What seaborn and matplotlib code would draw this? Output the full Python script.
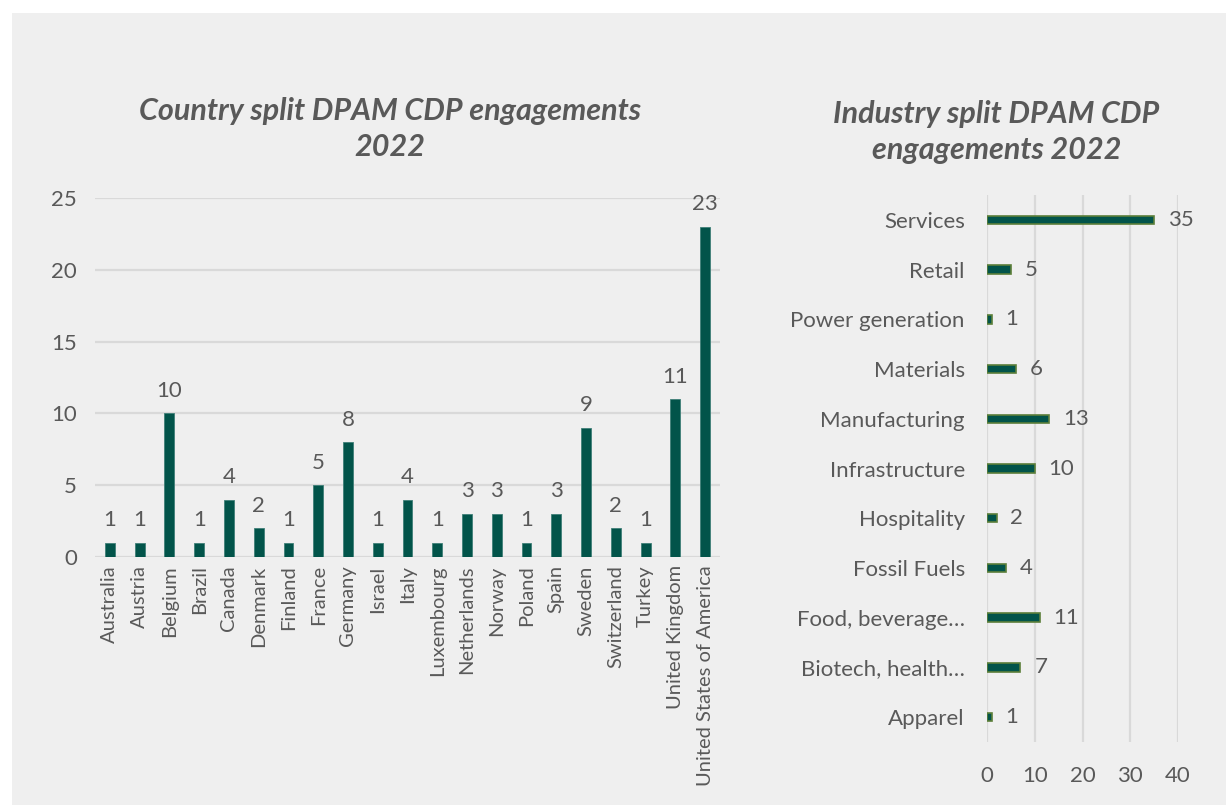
import matplotlib
matplotlib.use("Agg")
import matplotlib.pyplot as plt
import seaborn as sns
import pandas as pd
from matplotlib.patches import Rectangle

countries = ["Australia", "Austria", "Belgium", "Brazil", "Canada", "Denmark", "Finland",
             "France", "Germany", "Israel", "Italy", "Luxembourg", "Netherlands", "Norway",
             "Poland", "Spain", "Sweden", "Switzerland", "Turkey", "United Kingdom",
             "United States of America"]
country_counts = [1, 1, 10, 1, 4, 2, 1, 5, 8, 1, 4, 1, 3, 3, 1, 3, 9, 2, 1, 11, 23]

industries = ["Services", "Retail", "Power generation", "Materials", "Manufacturing",
              "Infrastructure", "Hospitality", "Fossil Fuels", "Food, beverage…",
              "Biotech, health…", "Apparel"]
industry_counts = [35, 5, 1, 6, 13, 10, 2, 4, 11, 7, 1]

title_left = "Country split DPAM CDP engagements\n2022"
title_right = "Industry split DPAM CDP\nengagements 2022"

sns.set_theme(style="white")
plt.rcParams['font.family'] = ['Lato', 'DejaVu Sans']

BAR = "#02544A"
EDGE_R = "#5C7F3A"
GRID = "#D9D9D9"
TXT = "#595959"
BG = "#EFEFEF"

W, H = 1226, 805
fig = plt.figure(figsize=(W / 100, H / 100), dpi=100, facecolor="white")
fig.patches.append(Rectangle((12 / W, 0), 1 - 12 / W, 1 - 13 / H, transform=fig.transFigure,
                             facecolor=BG, edgecolor="none", zorder=-10))

# Left chart
ax1 = fig.add_axes([95 / W, 1 - 557 / H, 625 / W, 359 / H])
df1 = pd.DataFrame({"country": countries, "count": country_counts})
sns.barplot(data=df1, x="country", y="count", color=BAR, width=0.33, ax=ax1,
            saturation=1, edgecolor="#3F7F77", linewidth=0.6, zorder=3)
ax1.set_ylim(0, 25)
ax1.set_yticks([0, 5, 10, 15, 20, 25])
ax1.set_facecolor("none")
ax1.grid(axis="y", color=GRID, linewidth=1.6, zorder=0)
for s in ax1.spines.values():
    s.set_visible(False)
ax1.set_xlabel("")
ax1.set_ylabel("")
ax1.tick_params(axis="y", labelsize=16, colors=TXT, length=0, pad=13)
ax1.tick_params(axis="x", labelsize=14.5, colors=TXT, length=0, pad=6, rotation=90)
for lbl in ax1.get_xticklabels():
    lbl.set_va("top")
for c in ax1.containers:
    ax1.bar_label(c, labels=[str(v) for v in country_counts], padding=9,
                  fontsize=16, color=TXT)
ax1.set_title(title_left, fontsize=22, fontweight="bold", fontstyle="italic",
              color=TXT, pad=30, linespacing=1.36, x=0.472)
ax1.set_xlim(-0.5, len(countries) - 0.5)

# Right chart
ax2 = fig.add_axes([987 / W, 1 - 742 / H, 191 / W, 547 / H])
df2 = pd.DataFrame({"industry": industries, "count": industry_counts})
sns.barplot(data=df2, y="industry", x="count", orient="h", color=BAR, width=0.17,
            ax=ax2, saturation=1, edgecolor=EDGE_R, linewidth=1.2, zorder=3)
ax2.set_xlim(0, 40)
ax2.set_xticks([0, 10, 20, 30, 40])
ax2.set_ylim(len(industries) - 0.5, -0.5)
ax2.set_facecolor("none")
ax2.grid(axis="x", color=GRID, linewidth=1.6, zorder=0)
for s in ax2.spines.values():
    s.set_visible(False)
ax2.set_xlabel("")
ax2.set_ylabel("")
ax2.tick_params(axis="y", labelsize=16, colors=TXT, length=0, pad=16)
ax2.tick_params(axis="x", labelsize=16, colors=TXT, length=0, pad=17)
for c in ax2.containers:
    ax2.bar_label(c, labels=[str(v) for v in industry_counts], padding=10,
                  fontsize=16, color=TXT)
ax2.set_title(title_right, fontsize=22, fontweight="bold", fontstyle="italic",
              color=TXT, pad=26, linespacing=1.36, x=0.05)

fig.savefig("out.png", dpi=100, facecolor="white")
